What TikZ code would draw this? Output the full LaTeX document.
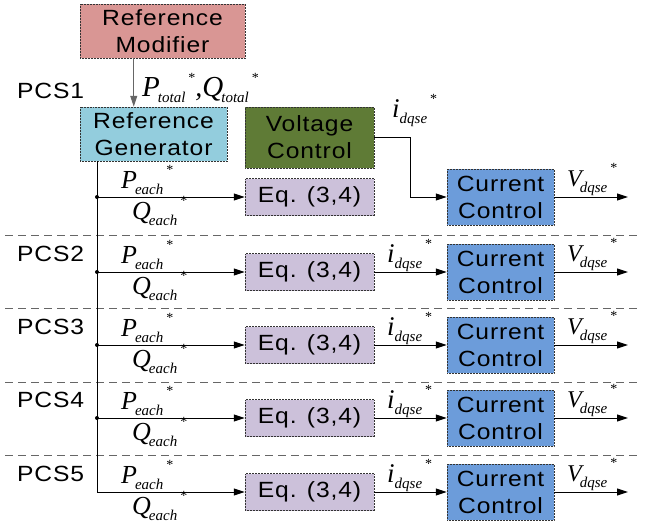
\documentclass[tikz,border=0pt]{standalone}
\usepackage{fontspec}
\setmainfont{Liberation Sans}
\newfontfamily\boxfont[FakeStretch=1.12, LetterSpace=4]{Liberation Sans}
\newfontfamily\symfont{Liberation Serif}
\usetikzlibrary{arrows.meta}

\definecolor{modfill}{HTML}{D99694}
\definecolor{genfill}{HTML}{93CDDD}
\definecolor{voltfill}{HTML}{5F7B36}
\definecolor{eqfill}{HTML}{CCC1DA}
\definecolor{ccfill}{HTML}{6C9CDA}

% signal name: big italic letter, italic subscript, raised star
% (optional argument: size of the big letter; \sigkern: gap before the subscript)
\newlength\sigkern
\setlength\sigkern{-2pt}
\newcommand\sigl[3][26]{{\symfont\itshape\fontsize{#1}{#1}\selectfont #2}%
  \hspace{\sigkern}\raisebox{-6pt}{\symfont\itshape\fontsize{15}{15}\selectfont #3}%
  \hspace{3pt}\raisebox{14pt}{\symfont\fontsize{14}{14}\selectfont *}}

\tikzset{
  blockbox/.style={draw=black!80, densely dotted, line width=0.5pt, inner sep=0pt,
    align=center, font=\boxfont\fontsize{22}{27}\selectfont},
  arr/.style={line width=1pt, -{Triangle[length=11pt,width=7pt]}},
  wire/.style={line width=1pt},
  sepline/.style={draw=black!60, dashed, dash pattern=on 8pt off 5pt, line width=1pt},
  pcslabel/.style={anchor=base west, inner sep=0pt, font=\boxfont\fontsize{22}{22}\selectfont},
  siglabel/.style={anchor=base west, inner sep=0pt},
  curlabel/.style={siglabel, execute at begin node={\setlength\sigkern{0pt}}},
}

\begin{document}
\begin{tikzpicture}[x=1pt, y=-1pt]
\useasboundingbox (0,0) rectangle (648,528);

% upper blocks
\node[blockbox, fill=modfill, minimum width=165pt, minimum height=54pt] (refmod) at (162.5,31) {Reference\\Modifier};
\node[blockbox, fill=genfill, minimum width=147pt, minimum height=54pt] (refgen) at (153.5,134) {Reference\\Generator};
\node[blockbox, fill=voltfill, minimum width=129pt, minimum height=61pt] (volt) at (309.5,137.5) {Voltage\\Control};

\draw[arr, draw=black!60] ([xshift=54pt]refgen.north west |- refmod.south) -- ([xshift=54pt]refgen.north west);
\node[siglabel] (ptot) at (142,96) {\sigl[29]{P}{total}{\symfont\itshape\fontsize{28}{28}\selectfont ,}\sigl[29]{Q}{total}};

% separators between the converter rows
\draw[sepline] (5,235) -- (640,235);
\draw[sepline] (5,308) -- (640,308);
\draw[sepline] (5,382) -- (640,382);
\draw[sepline] (5,455) -- (640,455);

% converter rows
\foreach \r/\y/\py in {1/197/98,2/272/261,3/345/334,4/418/407,5/492/481}{
  \coordinate (j\r) at (97,\y);
  \coordinate (out\r) at (628,\y);
  \node[pcslabel] (pcs\r) at (17,\py) {PCS\r};
  \node[blockbox, fill=eqfill, minimum width=129pt, minimum height=37pt] (eq\r) at (309.5,\y) {Eq. (3,4)};
  \node[blockbox, fill=ccfill, minimum width=107pt, minimum height=56pt] (cc\r) at (500.5,\y) {Current\\Control};
  \draw[arr] (j\r) -- (eq\r.west);
  \draw[arr] (cc\r.east) -- (out\r);
  \node[siglabel] (pe\r) at ({121},{\y-9}) {\sigl{P}{each}};
  \node[siglabel] (qe\r) at ({132},{\y+22}) {\sigl{Q}{each}};
  \node[siglabel] (vq\r) at ({567},{\y-11}) {\sigl[24]{V}{dqse}};
}
\foreach \r/\y in {2/272,3/345,4/418,5/492}{
  \draw[arr] (eq\r.east) -- (cc\r.west);
  \node[curlabel] (iq\r) at ({387},{\y-10}) {\sigl[27]{i}{dqse}};
}

% common bus from the reference generator
\draw[wire] (refgen.south -| j1) -- (j5);
\foreach \r in {1,2,3,4}{\fill (j\r) circle (2pt);}

% voltage control feeds the first current controller
\coordinate (vbend) at (410,197);
\draw[arr] (volt.east) -| (vbend) -- (cc1.west);
\node[curlabel] (iq1) at (392,117) {\sigl[27]{i}{dqse}};
\end{tikzpicture}
\end{document}
